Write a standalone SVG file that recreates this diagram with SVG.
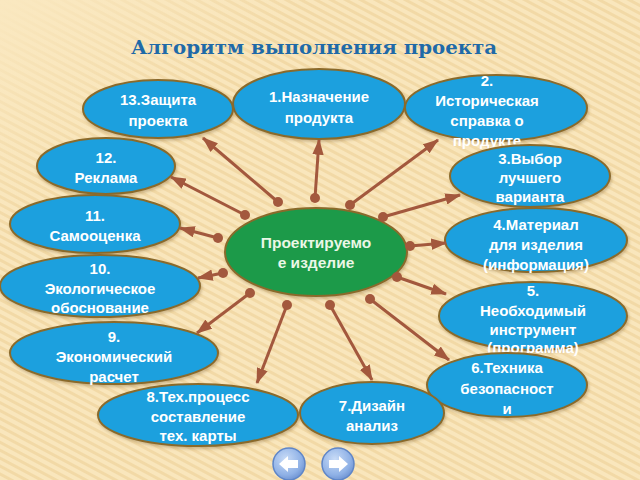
<svg xmlns="http://www.w3.org/2000/svg" width="640" height="480" viewBox="0 0 640 480">
<defs>
<pattern id="stripes" width="7" height="7" patternUnits="userSpaceOnUse" patternTransform="rotate(-62)">
<rect width="7" height="7" fill="#f9e6bc"/>
<rect width="3" height="7" fill="#f2d9a6"/>
</pattern>
<linearGradient id="fade" x1="0" y1="0" x2="1" y2="1">
<stop offset="0" stop-color="#faE8c0" stop-opacity="1"/>
<stop offset="0.25" stop-color="#fae8c0" stop-opacity="0"/>
</linearGradient>
<radialGradient id="btn" cx="0.4" cy="0.35" r="0.7">
<stop offset="0" stop-color="#c9dcf7"/>
<stop offset="0.7" stop-color="#8fb1e6"/>
<stop offset="1" stop-color="#6b90d0"/>
</radialGradient>
<marker id="arr" viewBox="0 0 14 10" refX="13" refY="5" markerWidth="5.3" markerHeight="3.8" markerUnits="strokeWidth" orient="auto">
<path d="M0,0 L14,5 L0,10 z" fill="#a3583d"/>
</marker>
<filter id="sh" x="-10%" y="-10%" width="120%" height="130%">
<feDropShadow dx="1" dy="2" stdDeviation="1.5" flood-color="#7a5a2a" flood-opacity="0.35"/>
</filter>
</defs>
<style>
.blue{fill:#1aa0de;stroke:#8a6a2c;stroke-width:2;filter:url(#sh)}
.green{fill:#1e9a48;stroke:#8a6a2c;stroke-width:2;filter:url(#sh)}
.t{font-family:"Liberation Sans",Arial,sans-serif;font-weight:bold;font-size:15px;fill:#ffffff;text-anchor:middle}
.tc{font-family:"Liberation Sans",Arial,sans-serif;font-weight:bold;font-size:15.5px;fill:#eaf7e6;text-anchor:middle}
.c line{stroke:#a3583d;stroke-width:3;marker-end:url(#arr)}
.c circle{fill:#a3583d}
.title{font-family:"DejaVu Serif","Liberation Serif",serif;font-weight:bold;font-size:19px;fill:#1f6aa8}
</style>
<rect width="640" height="480" fill="url(#stripes)"/>
<rect width="640" height="480" fill="url(#fade)"/>
<text class="title" x="131" y="54" textLength="366" lengthAdjust="spacingAndGlyphs">Алгоритм выполнения проекта</text>

<g id="node-center"><ellipse class="green" cx="316" cy="252" rx="91" ry="44"/>
<text class="tc" x="316" y="248">Проектируемо</text><text class="tc" x="316" y="268">е изделие</text></g>

<g id="node-1"><ellipse class="blue" cx="319" cy="104" rx="86" ry="35"/>
<text class="t" x="319" y="102">1.Назначение</text><text class="t" x="319" y="123">продукта</text></g>
<g id="node-2"><ellipse class="blue" cx="496" cy="108" rx="91" ry="33"/>
<text class="t" x="487" y="86">2.</text><text class="t" x="487" y="106">Историческая</text><text class="t" x="487" y="126">справка о</text><text class="t" x="487" y="146">продукте</text></g>
<g id="node-13"><ellipse class="blue" cx="158" cy="109" rx="75" ry="29"/>
<text class="t" x="158" y="105">13.Защита</text><text class="t" x="158" y="126">проекта</text></g>
<g id="node-12"><ellipse class="blue" cx="106" cy="166" rx="69" ry="28"/>
<text class="t" x="106" y="163">12.</text><text class="t" x="106" y="183">Реклама</text></g>
<g id="node-3"><ellipse class="blue" cx="530" cy="176" rx="80" ry="31"/>
<text class="t" x="530" y="164">3.Выбор</text><text class="t" x="530" y="183">лучшего</text><text class="t" x="530" y="202">варианта</text></g>
<g id="node-11"><ellipse class="blue" cx="95" cy="224" rx="85" ry="29"/>
<text class="t" x="95" y="221">11.</text><text class="t" x="95" y="241">Самооценка</text></g>
<g id="node-4"><ellipse class="blue" cx="536" cy="240" rx="91" ry="32"/>
<text class="t" x="536" y="230">4.Материал</text><text class="t" x="536" y="250">для изделия</text><text class="t" x="536" y="270">(информация)</text></g>
<g id="node-10"><ellipse class="blue" cx="100" cy="286" rx="100" ry="31"/>
<text class="t" x="100" y="274">10.</text><text class="t" x="100" y="294">Экологическое</text><text class="t" x="100" y="313">обоснование</text></g>
<g id="node-5"><ellipse class="blue" cx="533" cy="316" rx="94" ry="34"/>
<text class="t" x="533" y="296">5.</text><text class="t" x="533" y="316">Необходимый</text><text class="t" x="533" y="335">инструмент</text><text class="t" x="533" y="353">(программа)</text></g>
<g id="node-9"><ellipse class="blue" cx="114" cy="353" rx="104" ry="31"/>
<text class="t" x="114" y="342">9.</text><text class="t" x="114" y="362">Экономический</text><text class="t" x="114" y="382">расчет</text></g>
<g id="node-6"><ellipse class="blue" cx="507" cy="385" rx="80" ry="32"/>
<text class="t" x="507" y="373">6.Техника</text><text class="t" x="507" y="394">безопасност</text><text class="t" x="507" y="414">и</text></g>
<g id="node-8"><ellipse class="blue" cx="198" cy="415" rx="100" ry="31"/>
<text class="t" x="198" y="402">8.Тех.процесс</text><text class="t" x="198" y="422">составление</text><text class="t" x="198" y="441">тех. карты</text></g>
<g id="node-7"><ellipse class="blue" cx="372" cy="413" rx="72" ry="31"/>
<text class="t" x="372" y="411">7.Дизайн</text><text class="t" x="372" y="431">анализ</text></g>

<g id="connectors" class="c">
<line x1="278" y1="202" x2="203" y2="138"/><circle cx="278" cy="202" r="5"/>
<line x1="315" y1="198" x2="319" y2="140"/><circle cx="315" cy="198" r="5"/>
<line x1="350" y1="205" x2="438" y2="140"/><circle cx="350" cy="205" r="5"/>
<line x1="245" y1="215" x2="171" y2="177"/><circle cx="245" cy="215" r="5"/>
<line x1="383" y1="217" x2="460" y2="195"/><circle cx="383" cy="217" r="5"/>
<line x1="218" y1="238" x2="180" y2="228"/><circle cx="218" cy="238" r="5"/>
<line x1="410" y1="246" x2="446" y2="243"/><circle cx="410" cy="246" r="5"/>
<line x1="223" y1="273" x2="198" y2="278"/><circle cx="223" cy="273" r="5"/>
<line x1="397" y1="277" x2="446" y2="294"/><circle cx="397" cy="277" r="5"/>
<line x1="250" y1="293" x2="197" y2="333"/><circle cx="250" cy="293" r="5"/>
<line x1="370" y1="299" x2="449" y2="360"/><circle cx="370" cy="299" r="5"/>
<line x1="287" y1="305" x2="257" y2="383"/><circle cx="287" cy="305" r="5"/>
<line x1="330" y1="305" x2="372" y2="380"/><circle cx="330" cy="305" r="5"/>
</g>

<g id="btn-prev"><circle cx="289" cy="464" r="16" fill="url(#btn)" stroke="#5f86c8" stroke-width="1.5"/>
<path d="M279,464 L288,456 L288,460 L298,460 L298,468 L288,468 L288,472 z" fill="#ffffff"/></g>
<g id="btn-next"><circle cx="338" cy="464" r="16" fill="url(#btn)" stroke="#5f86c8" stroke-width="1.5"/>
<path d="M348,464 L339,456 L339,460 L329,460 L329,468 L339,468 L339,472 z" fill="#ffffff"/></g>
</svg>
